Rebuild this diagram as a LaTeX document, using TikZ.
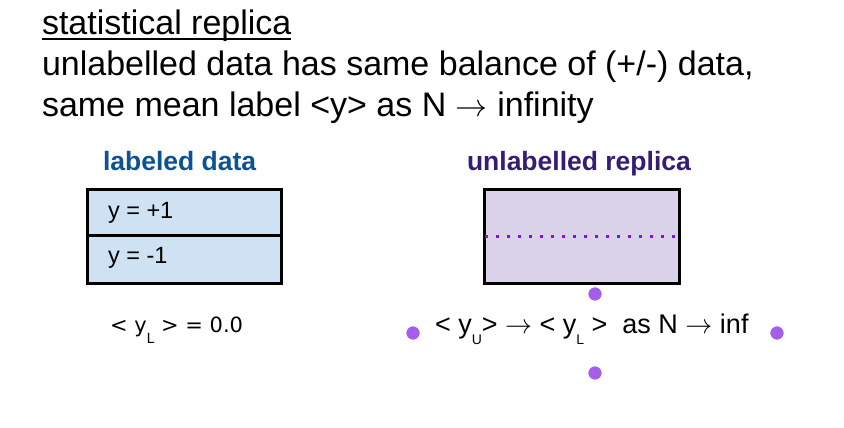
\documentclass[tikz,border=0pt]{standalone}
\usepackage{graphicx}
\usepackage{fontspec}
\setmainfont{Liberation Sans}
\newfontfamily\dvfont{DejaVu Sans}
\definecolor{lblue}{HTML}{CFE2F3}
\definecolor{lpurple}{HTML}{D9D2E9}
\definecolor{hblue}{HTML}{0B5394}
\definecolor{hpurple}{HTML}{351C75}
\definecolor{dotpurple}{HTML}{9900FF}
\definecolor{ptpurple}{HTML}{A35FEB}
\newcommand{\arr}[1]{\scalebox{#1}{\fontsize{10}{12}\selectfont$\rightarrow$}}
\newcommand{\subl}[1]{\lower11.5pt\hbox{\fontsize{14}{14}\selectfont #1}}
\begin{document}
\begin{tikzpicture}[x=1pt,y=-1pt,
  txt/.style={anchor=base west, inner sep=0pt, outer sep=0pt},
  big/.style={txt, font=\fontsize{34}{40}\selectfont},
  head/.style={txt, font=\fontsize{26.5}{30}\selectfont\bfseries},
  cell/.style={draw=black, line width=2.5pt, fill=lblue, minimum width=194pt, anchor=north west, inner sep=0pt},
  handle/.style={circle, fill=ptpurple, draw=white, line width=1.5pt, minimum size=15pt, inner sep=0pt}
]
\useasboundingbox (0,0) rectangle (844,428);
\fill[white] (0,0) rectangle (844,428);

% header text
\node[big] (title) at (42,35) {statistical replica};
\draw[line width=2pt] ([yshift=-4pt]title.base west) -- ([yshift=-4pt]title.base east);
\node[big] (l2) at (42,76) {unlabelled data has same balance of (+/-) data,};
\node[big] (l3) at (42,117) {same mean label <y> as N \arr{3.2} infinity};

% headings
\node[head, text=hblue] (hl) at (103,170) {labeled data};
\node[head, text=hpurple] (hu) at (467,170) {unlabelled replica};

% labeled data box
\node[cell, minimum height=46pt] (cp) at (86,188) {};
\node[cell, minimum height=48pt] (cm) at (86,234) {};
\node[txt, font=\fontsize{23.5}{26}\selectfont] (tp) at (108,218) {y = +1};
\node[txt, font=\fontsize{23.5}{26}\selectfont] (tm) at (108,263) {y = -1};

% unlabelled replica box
\node[draw=black, line width=3pt, fill=lpurple, minimum width=195pt, minimum height=94pt, anchor=north west, inner sep=0pt] (rb) at (483,188) {};
\draw[dotpurple, line width=3pt, dash pattern=on 3pt off 8pt] ([xshift=2pt]rb.west) -- (rb.east);

% bottom formulas
\node[txt, font=\dvfont\fontsize{21}{24}\selectfont] (ml) at (110,332)
  {< y\subl{L} > = 0.0};
\node[txt, font=\fontsize{27}{30}\selectfont] (mr) at (435,333)
  {< y\subl{U}> \arr{2.7} < y\subl{L} >\ \ as N \arr{2.7} inf};

% selection handles
\node[handle] (hT) at (595,294) {};
\node[handle] (hB) at (595,373) {};
\node[handle] (hL) at (413,333) {};
\node[handle] (hR) at (777,333) {};
\end{tikzpicture}
\end{document}
